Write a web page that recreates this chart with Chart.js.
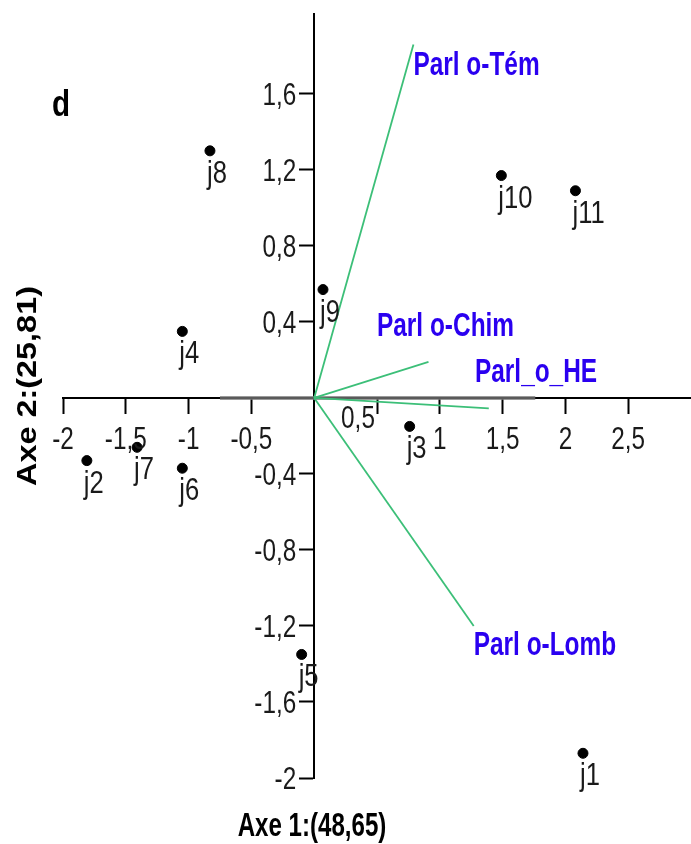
<!DOCTYPE html>
<html>
<head>
<meta charset="utf-8">
<script src="https://cdn.jsdelivr.net/npm/chart.js@4.4.1/dist/chart.umd.min.js"></script>
<style>
  html, body { margin: 0; padding: 0; background: #fff; }
  #wrap { width: 691px; height: 844px; }
</style>
</head>
<body>
<div id="wrap"><canvas id="biplot" width="691" height="844"></canvas></div>
<script>
// individus : coordonnées sur les axes 1 et 2
const pointNames = ['j1', 'j2', 'j3', 'j4', 'j5', 'j6', 'j7', 'j8', 'j9', 'j10', 'j11'];
const pointX = [2.14, -1.81, 0.76, -1.05, -0.10, -1.05, -1.41, -0.83, 0.07, 1.49, 2.08];
const pointY = [-1.87, -0.33, -0.15, 0.35, -1.35, -0.37, -0.26, 1.30, 0.57, 1.17, 1.09];

// variables : extrémités des flèches
const varNames = ['Parl o-Tém', 'Parl o-Chim', 'Parl_o_HE', 'Parl o-Lomb'];
const varX = [0.79, 0.91, 1.39, 1.27];
const varY = [1.86, 0.19, -0.055, -1.20];
// ancrage des étiquettes des variables (unités des axes)
const varLabelX = [0.79, 0.50, 1.28, 1.27];
const varLabelY = [1.70, 0.326, 0.084, -1.353];

// trait gris sur l'axe 1
const ghostX = [-0.75, 1.76];

const xTitle = 'Axe 1:(48,65)';
const yTitle = 'Axe 2:(25,81)';
const panelLetter = 'd';

const FONT = '"Liberation Sans", Arial, sans-serif';

function fmt(v) {
  return String(Math.round(v * 10) / 10).replace('.', ',');
}

// texte compressé horizontalement (le texte de l'original est étiré en hauteur)
function squeezeText(ctx, txt, x, y, align, sx) {
  ctx.save();
  ctx.translate(x, y);
  ctx.scale(sx, 1);
  ctx.textAlign = align;
  ctx.fillText(txt, 0, 0);
  ctx.restore();
}

const datasets = varNames.map((name, i) => ({
  type: 'line',
  label: name,
  data: [{ x: 0, y: 0 }, { x: varX[i], y: varY[i] }],
  borderColor: '#3cbf78',
  borderWidth: 1.8,
  pointRadius: 0,
  order: 2
}));

datasets.push({
  type: 'line',
  label: 'ghost',
  data: [{ x: ghostX[0], y: 0 }, { x: ghostX[1], y: 0 }],
  borderColor: 'rgba(120,120,120,0.75)',
  borderWidth: 4,
  pointRadius: 0,
  order: 3
});

datasets.push({
  type: 'scatter',
  label: 'individus',
  data: pointX.map((x, i) => ({ x: x, y: pointY[i] })),
  backgroundColor: '#000',
  borderColor: '#000',
  pointRadius: 5,
  order: 1
});
const indivIndex = datasets.length - 1;

const textPlugin = {
  id: 'textPlugin',
  afterDraw(chart) {
    const { ctx, scales: { x, y } } = chart;
    const x0 = x.getPixelForValue(0);
    const y0 = y.getPixelForValue(0);
    ctx.save();
    ctx.textBaseline = 'alphabetic';
    ctx.fillStyle = '#1a1a1a';

    // graduations
    ctx.font = '32px ' + FONT;
    x.ticks.forEach(t => {
      if (t.value === 0.5) return;
      squeezeText(ctx, fmt(t.value), x.getPixelForValue(t.value), y0 + 51, 'center', 0.76);
    });
    // "0,5" décalé comme sur l'original
    squeezeText(ctx, fmt(0.5), x.getPixelForValue(0.5) - 19, y0 + 30, 'center', 0.76);
    y.ticks.forEach(t => {
      squeezeText(ctx, fmt(t.value), x0 - 18, y.getPixelForValue(t.value) + 11, 'right', 0.76);
    });

    // étiquettes des individus
    ctx.font = '32px ' + FONT;
    chart.getDatasetMeta(indivIndex).data.forEach((p, i) => {
      squeezeText(ctx, pointNames[i], p.x - 3, p.y + 32, 'left', 0.8);
    });

    // étiquettes des variables
    ctx.font = 'bold 33px ' + FONT;
    ctx.fillStyle = '#2a00f0';
    varNames.forEach((name, i) => {
      squeezeText(ctx, name, x.getPixelForValue(varLabelX[i]), y.getPixelForValue(varLabelY[i]), 'left', 0.74);
    });

    // lettre du panneau
    ctx.fillStyle = '#000';
    ctx.font = 'bold 37px ' + FONT;
    squeezeText(ctx, panelLetter, 52, 116, 'left', 0.8);

    // titres des axes
    ctx.font = 'bold 33px ' + FONT;
    squeezeText(ctx, xTitle, 312, 836, 'center', 0.73);

    ctx.translate(29, 386);
    ctx.rotate(-Math.PI / 2);
    ctx.scale(1.2, 1);
    ctx.font = 'bold 27px ' + FONT;
    ctx.textAlign = 'center';
    ctx.textBaseline = 'middle';
    ctx.fillText(yTitle, 0, 0);
    ctx.restore();
  }
};

new Chart(document.getElementById('biplot'), {
  data: { datasets: datasets },
  options: {
    responsive: false,
    animation: false,
    layout: { autoPadding: false, padding: { left: 63, right: 0, top: 14, bottom: 66 } },
    plugins: { legend: { display: false }, tooltip: { enabled: false } },
    scales: {
      x: {
        type: 'linear',
        position: { y: 0 },
        min: -2,
        max: 3,
        afterBuildTicks: s => { s.ticks = s.ticks.filter(t => t.value !== 0 && t.value < 2.9); },
        ticks: { stepSize: 0.5, display: false },
        grid: { drawOnChartArea: false, drawTicks: true, tickLength: 15, tickColor: '#000', tickWidth: 2 },
        border: { color: '#000', width: 2 }
      },
      y: {
        type: 'linear',
        position: { x: 0 },
        min: -2,
        max: 2.02,
        afterBuildTicks: s => { s.ticks = s.ticks.filter(t => Math.abs(t.value) > 0.01 && t.value < 1.9); },
        ticks: { stepSize: 0.4, display: false },
        grid: { drawOnChartArea: false, drawTicks: true, tickLength: 14, tickColor: '#000', tickWidth: 2 },
        border: { color: '#000', width: 2 }
      }
    }
  },
  plugins: [textPlugin]
});
</script>
</body>
</html>
